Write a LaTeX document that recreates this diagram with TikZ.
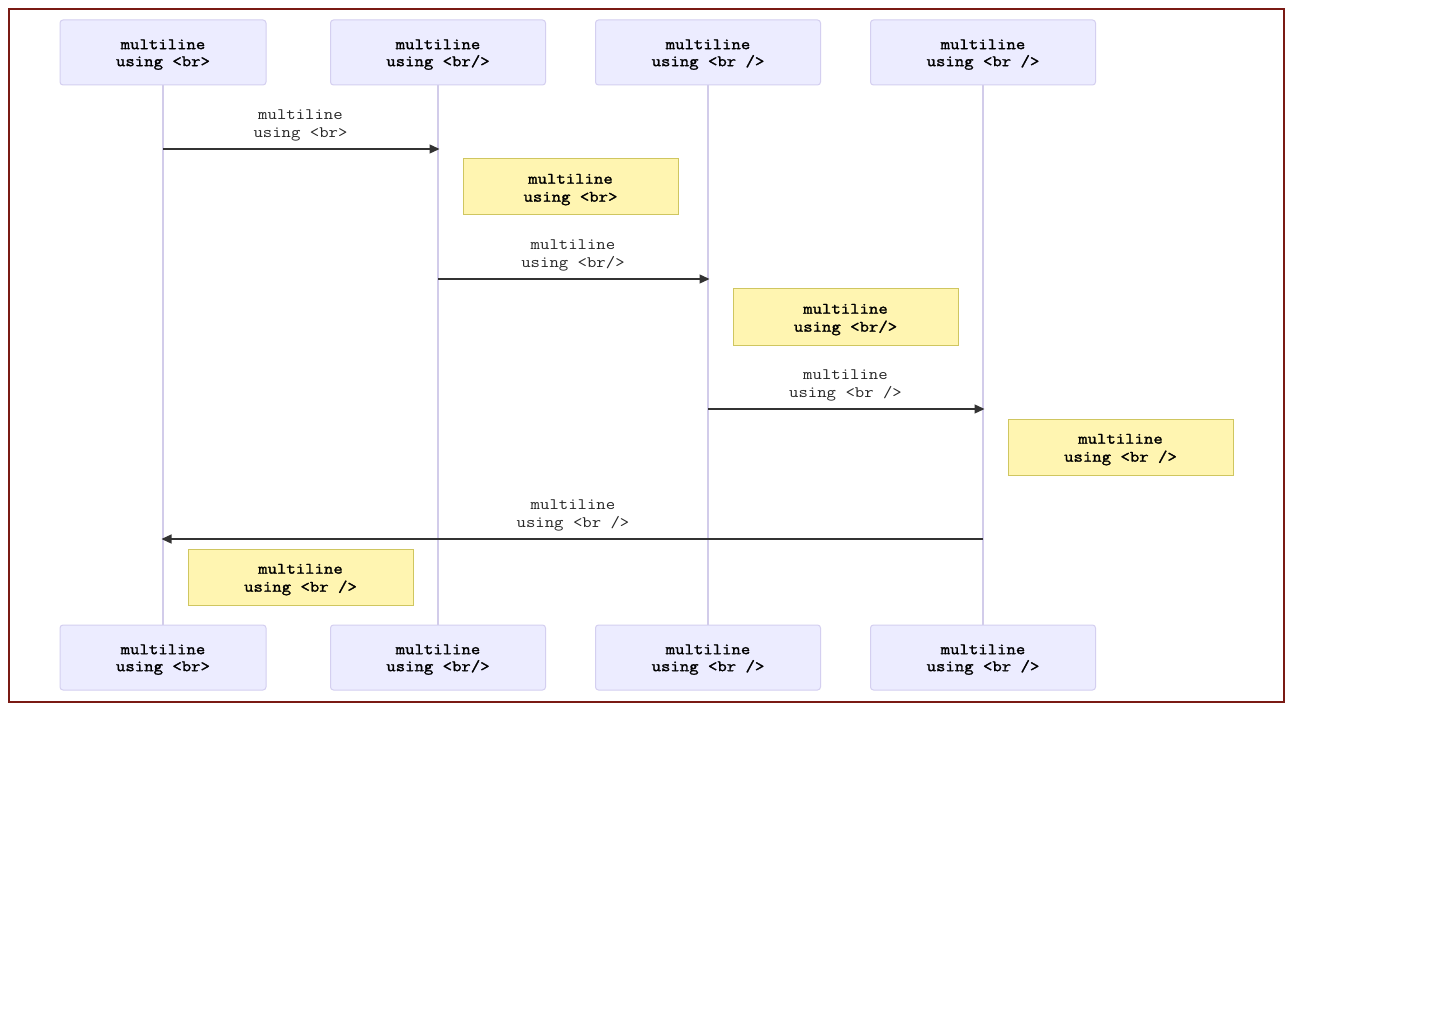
\documentclass[tikz,border=0pt]{standalone}
\usepackage{fontspec}
\newfontfamily\courfont[FakeStretch=1.14]{Latin Modern Mono}
\newfontfamily\courboldfont[FakeStretch=1.14,FakeBold=1.6]{Latin Modern Mono}
\usetikzlibrary{arrows.meta}
\definecolor{actorfill}{HTML}{ECECFF}
\definecolor{actorline}{HTML}{D4CFF0}
\definecolor{lifeline}{HTML}{D2CCEA}
\definecolor{notefill}{HTML}{FFF5B1}
\definecolor{noteline}{HTML}{CFC660}
\definecolor{msgline}{HTML}{333333}
\definecolor{framecol}{HTML}{7A1A14}
% first-line strut that lowers a two-line label inside its box
\newcommand\lowerby[1]{\rule{0pt}{#1pt}}
\tikzset{
  txt/.style={font=\courfont\fontsize{16}{18}\selectfont, align=center, inner sep=0pt},
  actor/.style={txt, font=\courboldfont\fontsize{16}{17}\selectfont, draw=actorline, fill=actorfill, line width=1pt, rounded corners=3pt, minimum height=65pt},
  note/.style={txt, font=\courboldfont\fontsize{16}{18}\selectfont, draw=noteline, fill=notefill, line width=1pt, minimum height=56pt, minimum width=225pt},
  life/.style={draw=lifeline, line width=1.5pt},
  msg/.style={draw=msgline, line width=1.3pt, -{Triangle[length=10pt,width=9pt]}},
  msglabel/.style={txt, text=black!85},
}
\begin{document}
\begin{tikzpicture}[x=1pt,y=-1pt]
\useasboundingbox (0,0) rectangle (1440,1024);
\fill[white] (0,0) rectangle (1440,1024);
% outer frame
\draw[framecol, line width=2pt] (9,9) rectangle (1284,702);

% lifelines (drawn first, boxes cover their ends)
\draw[life] (163,85) -- (163,625);
\draw[life] (438,85) -- (438,625);
\draw[life] (708,85) -- (708,625);
\draw[life] (983,85) -- (983,625);

% participants, top row
\node[actor, minimum width=206pt] (a1t) at (163,52.5) {\lowerby{14}multiline\\using <br>};
\node[actor, minimum width=215pt] (a2t) at (438,52.5) {\lowerby{14}multiline\\using <br/>};
\node[actor, minimum width=225pt] (a3t) at (708,52.5) {\lowerby{14}multiline\\using <br />};
\node[actor, minimum width=225pt] (a4t) at (983,52.5) {\lowerby{14}multiline\\using <br />};
% participants, bottom row
\node[actor, minimum width=206pt] (a1b) at (163,657.5) {\lowerby{14}multiline\\using <br>};
\node[actor, minimum width=215pt] (a2b) at (438,657.5) {\lowerby{14}multiline\\using <br/>};
\node[actor, minimum width=225pt] (a3b) at (708,657.5) {\lowerby{14}multiline\\using <br />};
\node[actor, minimum width=225pt] (a4b) at (983,657.5) {\lowerby{14}multiline\\using <br />};

% message end points on the lifelines
\coordinate (m1s) at (a1t.south |- 0,149);
\coordinate (m1e) at (a2t.south |- 0,149);
\coordinate (m2s) at (a2t.south |- 0,279);
\coordinate (m2e) at (a3t.south |- 0,279);
\coordinate (m3s) at (a3t.south |- 0,409);
\coordinate (m3e) at (a4t.south |- 0,409);
\coordinate (m4s) at (a4t.south |- 0,539);
\coordinate (m4e) at (a1t.south |- 0,539);

% messages
\draw[msg] (m1s) -- ([xshift=1.5pt]m1e);
\node[msglabel] (l1) at (300.5,125) {multiline\\using <br>};
\draw[msg] (m2s) -- ([xshift=1.5pt]m2e);
\node[msglabel] (l2) at (573,255) {multiline\\using <br/>};
\draw[msg] (m3s) -- ([xshift=1.5pt]m3e);
\node[msglabel] (l3) at (845.5,385) {multiline\\using <br />};
\draw[msg] (m4s) -- ([xshift=-1.5pt]m4e);
\node[msglabel] (l4) at (573,515) {multiline\\using <br />};

% notes
\node[note, minimum width=215pt] (n1) at (570.5,187) {\lowerby{15}multiline\\using <br>};
\node[note] (n2) at (845.5,317) {\lowerby{15}multiline\\using <br/>};
\node[note] (n3) at (1120.5,447) {\lowerby{15}multiline\\using <br />};
\node[note] (n4) at (300.5,577) {\lowerby{15}multiline\\using <br />};
\end{tikzpicture}
\end{document}
